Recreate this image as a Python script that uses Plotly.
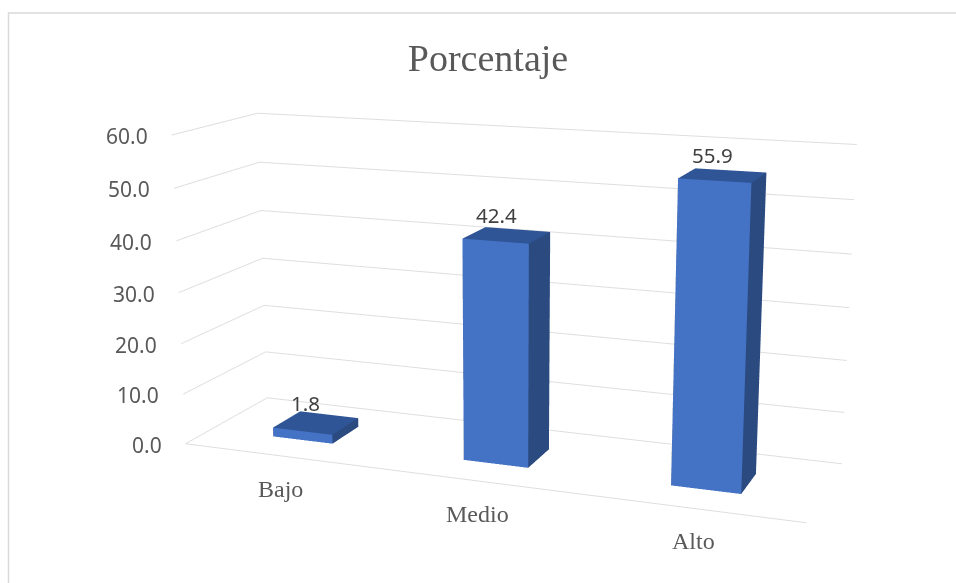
import plotly.graph_objects as go

categories = ["Bajo", "Medio", "Alto"]
values = [1.8, 42.4, 55.9]
z_ticks = [0, 10, 20, 30, 40, 50, 60]
z_labels = ["0.0", "10.0", "20.0", "30.0", "40.0", "50.0", "60.0"]

BAR_W = 0.32
BAR_D = 0.35
BAR_Y = 0.48
FRONT = "#4472C4"
SIDE = "#2A4A80"
TOP = "#2F5597"

# A larger canvas flattens the fixed 45-degree perspective of the 3D scene; the page shows its window.
S = 2.5
W, H = 956 * S, 583 * S
SHIFT_X, SHIFT_Y = 30, 8
OX, OY = (W - 956) / 2 - SHIFT_X, (H - 583) / 2 - SHIFT_Y


def px(x):
    return (x + OX) / W


def py(y):
    return 1 - (y + OY) / H


fig = go.Figure()
for i, v in enumerate(values):
    x0, x1 = i - BAR_W / 2, i + BAR_W / 2
    y0, y1 = BAR_Y - BAR_D / 2, BAR_Y + BAR_D / 2
    xs = [x0, x1, x1, x0, x0, x1, x1, x0]
    ys = [y0, y0, y1, y1, y0, y0, y1, y1]
    zs = [0, 0, 0, 0, v, v, v, v]
    I = [0, 0, 1, 1, 4, 4, 3, 3, 0, 0, 2, 2]
    J = [1, 5, 2, 6, 5, 6, 2, 6, 3, 7, 3, 7]
    K = [5, 4, 6, 5, 6, 7, 6, 7, 7, 4, 7, 6]
    fc = [FRONT, FRONT, SIDE, SIDE, TOP, TOP, SIDE, SIDE, SIDE, SIDE, SIDE, SIDE]
    fig.add_trace(go.Mesh3d(x=xs, y=ys, z=zs, i=I, j=J, k=K, facecolor=fc, flatshading=True,
                            lighting=dict(ambient=1, diffuse=0, specular=0, fresnel=0),
                            showscale=False, hoverinfo="skip"))

annotations = []
for i, v in enumerate(values):
    annotations.append(dict(x=i, y=BAR_Y, z=v, text=f"{v:.1f}", showarrow=False, xshift=-10, yshift=20,
                            font=dict(family="Noto Sans", size=20.5, color="#404040")))
for i, c in enumerate(categories):
    annotations.append(dict(x=i, y=0, z=0, text=c, showarrow=False, xshift=2, yshift=-33,
                            font=dict(family="Liberation Serif", size=24, color="#595959")))
for t, s in zip(z_ticks, z_labels):
    annotations.append(dict(x=-0.5, y=0, z=t, text=s, showarrow=False, xanchor="right", xshift=-22, yshift=-1,
                            font=dict(family="Noto Sans", size=21, color="#595959")))

fig.update_layout(
    width=W, height=H, margin=dict(l=0, r=0, t=0, b=0), showlegend=False,
    paper_bgcolor="white",
    title=dict(text="Porcentaje", x=px(488), xanchor="center", y=py(57), yanchor="middle",
               font=dict(family="Liberation Serif", size=38, color="#595959")),
    shapes=[dict(type="rect", xref="paper", yref="paper", x0=px(8.5), x1=px(980), y0=py(600), y1=py(12.5),
                 line=dict(color="#D9D9D9", width=1.5))],
    scene=dict(
        domain=dict(x=[0, 1], y=[0, 1]),
        aspectmode="manual", aspectratio=dict(x=0.97, y=0.265, z=0.482),
        camera=dict(eye=dict(x=0.905, y=-2.39, z=0.615), center=dict(x=0, y=0, z=0), up=dict(x=0, y=0, z=1)),
        annotations=annotations,
        xaxis=dict(range=[-0.5, 2.5], showticklabels=False, title="", showgrid=False,
                   showline=True, linecolor="#DEDEDE", linewidth=2, zeroline=False, showbackground=False,
                   ticks=""),
        yaxis=dict(range=[0, 1], showticklabels=False, title="", showgrid=False, showline=False,
                   zeroline=False, showbackground=False, ticks=""),
        zaxis=dict(range=[0, 60], tickvals=z_ticks, showticklabels=False, title="", showgrid=True,
                   gridcolor="#DEDEDE", gridwidth=2, showline=False, zeroline=False, showbackground=False,
                   ticks=""),
    ),
)
post = (
    "document.documentElement.style.overflow='hidden';"
    "document.body.style.margin='0';document.body.style.overflow='hidden';"
    "var g=document.querySelector('.plotly-graph-div');"
    f"g.style.position='absolute';g.style.left='{-OX}px';g.style.top='{-OY}px';"
)
fig.write_html("out.html", post_script=post, config=dict(displayModeBar=False))
